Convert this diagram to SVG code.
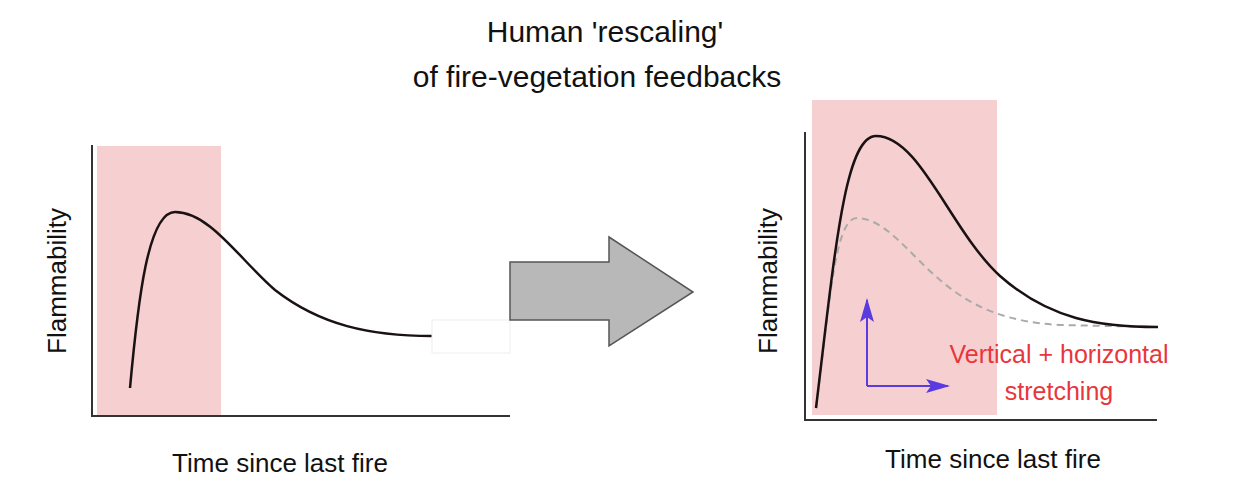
<svg xmlns="http://www.w3.org/2000/svg" width="1258" height="500" viewBox="0 0 1258 500">
<style>
text{font-family:"Liberation Sans",Arial,sans-serif;}
.t{font-size:30px;fill:#111;text-anchor:middle}
.ax{fill:none;stroke:#333;stroke-width:2}
.pink{fill:#f6cfd0}
.cur{fill:none;stroke:#1a1212;stroke-width:2.5}
.red{font-size:25px;fill:#e8363c;text-anchor:middle}
</style>
<defs><marker id="pa" markerWidth="24" markerHeight="14" refX="22" refY="7" orient="auto" markerUnits="userSpaceOnUse"><path d="M0,0 L24,7 L0,14 L5,7 z" fill="#5a3be0"/></marker></defs>
<rect width="1258" height="500" fill="#fff"/>
<text class="t" x="605" y="42">Human 'rescaling'</text>
<text class="t" x="597" y="87">of fire-vegetation feedbacks</text>
<g id="left">
<rect class="pink" x="97" y="146" width="124" height="269"/>
<path class="ax" d="M92,145 V416 H510"/>
<path class="cur" d="M130,388 C138,300 148,212 175,212 C210,212 240,260 275,290 C320,325 370,336 432,336"/>
<rect x="432" y="320" width="78" height="33" fill="#fff" stroke="#eee"/>
<text class="t" transform="translate(66,281) rotate(-90)" style="font-size:26px">Flammability</text>
<text class="t" x="280" y="472" style="font-size:26px">Time since last fire</text>
</g>
<g id="arrow"><path d="M510,262 H609 V237 L693,292 L609,346 V320 H510 Z" fill="#b8b8b8" stroke="#555" stroke-width="1.5"/></g>
<g id="right">
<rect class="pink" x="812" y="100" width="185" height="315"/>
<path class="ax" d="M805,132 V420 H1157"/>
<path d="M816,408 C830,300 835,218 857,218 C885,218 910,255 940,280 C975,310 1010,322 1060,325 L1158,327" fill="none" stroke="#aaa" stroke-width="2" stroke-dasharray="7,5"/>
<path class="cur" d="M816,408 C835,250 845,136 876,136 C920,136 950,230 1000,276 C1050,320 1100,327 1158,327"/>
<text class="t" transform="translate(777,281) rotate(-90)" style="font-size:26px">Flammability</text>
<text class="t" x="993" y="468" style="font-size:26px">Time since last fire</text>
</g>
<g id="connectors">
<path d="M867,386 V300" stroke="#5a3be0" stroke-width="2" fill="none" marker-end="url(#pa)"/>
<path d="M867,386 H948" stroke="#5a3be0" stroke-width="2" fill="none" marker-end="url(#pa)"/>
</g>
<text class="red" x="1059" y="363">Vertical + horizontal</text>
<text class="red" x="1059" y="400">stretching</text>
</svg>
